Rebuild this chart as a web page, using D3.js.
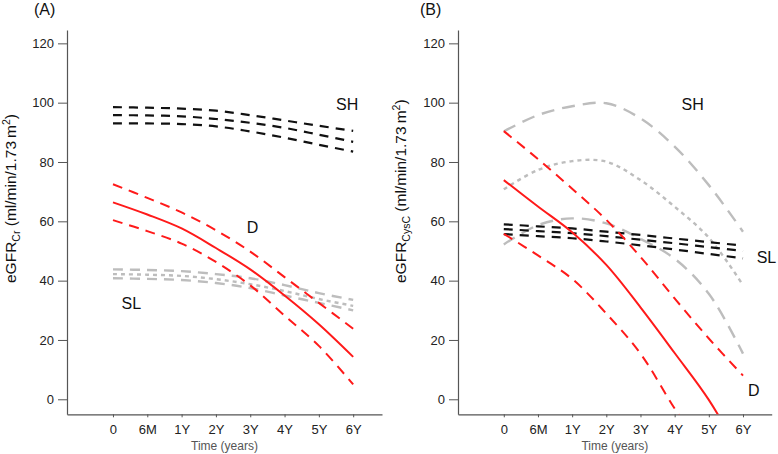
<!DOCTYPE html>
<html><head><meta charset="utf-8">
<script src="https://cdn.jsdelivr.net/npm/d3@7"></script>
<style>
html,body{margin:0;padding:0;background:#fff;}
svg{display:block;font-family:"Liberation Sans",Arial,sans-serif;}
</style></head>
<body><svg id="c" width="778" height="454"></svg>
<script>
// ---- data ----
const timeLabels = ["0","6M","1Y","2Y","3Y","4Y","5Y","6Y"];
const yTickValues = [0,20,40,60,80,100,120];

// Panel A (eGFR Cr)
const aShUpper = [98.5, 98.3, 98.0, 97.3, 95.8, 94.0, 92.2, 90.5];
const aShMid   = [95.8, 95.7, 95.4, 94.5, 93.2, 91.5, 89.2, 86.8];
const aShLower = [93.0, 93.0, 92.8, 92.0, 90.3, 88.2, 85.8, 83.5];
const aDMean   = [66.4, 62.3, 57.6, 51.0, 43.8, 35.0, 25.3, 14.3];
const aDUpper  = [72.5, 67.9, 63.0, 57.0, 49.8, 41.2, 32.5, 23.8];
const aDLower  = [60.4, 56.7, 52.5, 46.3, 38.4, 28.2, 18.0, 5.0];
const aSlUpper = [43.8, 43.6, 43.2, 42.2, 40.8, 38.5, 35.8, 33.5];
const aSlMid   = [42.2, 42.0, 41.6, 40.5, 38.8, 36.5, 33.8, 31.5];
const aSlLower = [40.8, 40.6, 40.2, 39.2, 37.5, 35.0, 32.5, 30.0];

// Panel B (eGFR CysC)
const bShUpper = [90.3, 95.8, 98.8, 99.8, 94.7, 85.2, 72.2, 56.5];
const bShMid   = [70.8, 77.3, 80.3, 80.1, 73.9, 64.9, 54.5, 38.5];
const bShLower = [52.2, 58.7, 61.0, 59.3, 54.1, 47.4, 35.6, 15.4];
const bDMean   = [73.9, 65.0, 56.3, 45.3, 31.0, 15.6, -0.2, -20];
const bDUpper  = [90.4, 81.0, 71.0, 60.5, 48.0, 34.0, 20.5, 8.0];
const bDLower  = [55.8, 48.5, 40.6, 28.9, 15.4, -3.1, -20, -35];
const bSlUpper = [59.0, 58.3, 57.6, 56.5, 55.4, 54.2, 53.0, 51.8];
const bSlMid   = [57.4, 56.7, 56.0, 55.0, 53.8, 52.6, 51.3, 50.0];
const bSlLower = [55.7, 55.0, 54.3, 53.2, 51.9, 50.5, 49.0, 47.5];

const svg = d3.select("#c");
const RED = "#ff1a1a", BLACK = "#111", GRAY = "#bdbdbd";

const styles = {
  blackDash: {stroke: BLACK, w: 2.2, dash: "9,7"},
  redSolid:  {stroke: RED, w: 2, dash: null},
  redDash:   {stroke: RED, w: 2, dash: "10,7"},
  grayDash:  {stroke: GRAY, w: 2.4, dash: "10,7"},
  grayDot:   {stroke: GRAY, w: 2.4, dash: "4,4"},
  grayDashB: {stroke: GRAY, w: 2.4, dash: "13,8"}
};

const panels = [
  {id:"A", left:67, right:382, tag:"(A)", tagX:34, titleX:15.5, sub:"Cr",
   lines:[[aSlUpper,"grayDash"],[aSlMid,"grayDot"],[aSlLower,"grayDash"],
          [aShUpper,"blackDash"],[aShMid,"blackDash"],[aShLower,"blackDash"],
          [aDUpper,"redDash"],[aDLower,"redDash"],[aDMean,"redSolid"]],
   labels:[["SH",6.5,97.5],["D",3.9,56],["SL",0.25,30.5]]},
  {id:"B", left:458, right:771.7, tag:"(B)", tagX:420, titleX:405.5, sub:"CysC",
   lines:[[bShUpper,"grayDashB"],[bShMid,"grayDot"],[bShLower,"grayDashB"],
          [bSlUpper,"blackDash"],[bSlMid,"blackDash"],[bSlLower,"blackDash"],
          [bDUpper,"redDash"],[bDLower,"redDash"],[bDMean,"redSolid"]],
   labels:[["SH",5.2,97.5],["SL",7.4,46],["D",7.15,1]]}
];

const yTop = 30, yBot = 414.3;
panels.forEach(p => {
  const x = d3.scaleLinear().domain([-1.34, 7.84]).range([p.left, p.right]);
  const y = d3.scaleLinear().domain([-5.06, 124.5]).range([yBot, yTop]);
  const g = svg.append("g");

  g.append("clipPath").attr("id","clip"+p.id)
    .append("rect").attr("x", p.left).attr("y", yTop)
    .attr("width", p.right - p.left).attr("height", yBot - yTop);

  // axes
  const ya = g.append("g").attr("transform", `translate(${p.left},0)`)
    .call(d3.axisLeft(y).tickValues(yTickValues).tickSize(9).tickPadding(4).tickSizeOuter(0));
  const xa = g.append("g").attr("transform", `translate(0,${yBot})`)
    .call(d3.axisBottom(x).tickValues(d3.range(timeLabels.length))
      .tickFormat(i => timeLabels[i]).tickSize(3).tickPadding(7).tickSizeOuter(0));
  [ya, xa].forEach(a => {
    a.select(".domain").attr("stroke", "#555").attr("stroke-width", 1.2);
    a.selectAll(".tick line").attr("stroke", "#555");
    a.selectAll(".tick text").attr("fill", "#222").style("font-size", "13px")
      .style("font-family", '"Liberation Sans",Arial,sans-serif');
  });

  // lines
  const line = d3.line().x((d,i) => x(i)).y(d => y(d)).curve(d3.curveCatmullRom.alpha(0.5));
  const lg = g.append("g").attr("clip-path", `url(#clip${p.id})`);
  p.lines.forEach(([vals, st]) => {
    const s = styles[st];
    lg.append("path").attr("d", line(vals)).attr("fill","none")
      .attr("stroke", s.stroke).attr("stroke-width", s.w)
      .attr("stroke-dasharray", s.dash);
  });

  // group labels
  p.labels.forEach(([t, xi, yv]) => {
    g.append("text").attr("x", x(xi)).attr("y", y(yv))
      .attr("fill", "#111").style("font-size", "16px").text(t);
  });

  // panel tag
  g.append("text").attr("x", p.tagX).attr("y", 15).attr("fill","#111")
    .style("font-size","16px").text(p.tag);

  // x title
  g.append("text").attr("x", (p.left + p.right)/2).attr("y", 449.5)
    .attr("text-anchor","middle").attr("fill","#555").style("font-size","12px")
    .text("Time (years)");

  // y title
  const yt = g.append("text")
    .attr("transform", `translate(${p.titleX},283) rotate(-90)`)
    .attr("fill","#111").style("font-size","15.5px");
  yt.append("tspan").text("eGFR");
  yt.append("tspan").attr("dy", 4).style("font-size","10.5px").text(p.sub);
  yt.append("tspan").attr("dy", -4).text(" (ml/min/1.73\u2009m");
  yt.append("tspan").attr("dy", -5.5).style("font-size","10.5px").text("2");
  yt.append("tspan").attr("dy", 5.5).text(")");
});
</script></body></html>
